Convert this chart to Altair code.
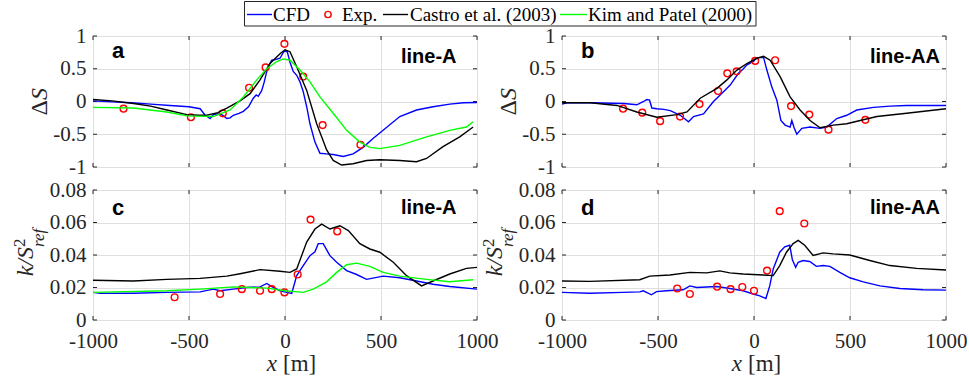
import altair as alt
import pandas as pd

# ---------------- data ----------------
X_TICKS = [-1000, -500, 0, 500, 1000]
DS_TICKS = [-1, -0.5, 0, 0.5, 1]
K_TICKS = [0, 0.02, 0.04, 0.06, 0.08]

# panel a : Delta S, line-A
A_CFD_X = [-1000, -900, -800, -700, -600, -500, -442, -416, -400, -390, -373, -355, -338, -320, -303, -286,
           -269, -240, -217, -190, -165, -150, -139, -121, -108, -95, -82, -69, -50, -26, -9, 0, 12, 26, 43,
           61, 78, 95, 113, 130, 156, 182, 215, 251, 303, 355, 407, 460, 511, 598, 685, 771, 858, 930, 1000]
A_CFD_Y = [0.01, -0.005, -0.02, -0.04, -0.06, -0.08, -0.11, -0.21, -0.24, -0.26, -0.2, -0.19, -0.19, -0.22,
           -0.26, -0.25, -0.21, -0.18, -0.15, -0.08, 0.05, 0.1, 0.08, 0.17, 0.3, 0.46, 0.56, 0.63, 0.64, 0.66,
           0.75, 0.77, 0.76, 0.6, 0.46, 0.4, 0.3, 0.15, -0.08, -0.34, -0.62, -0.79, -0.8, -0.81, -0.84, -0.8,
           -0.7, -0.56, -0.44, -0.23, -0.13, -0.08, -0.04, -0.02, -0.015]
A_CAS_X = [-1000, -900, -789, -700, -615, -511, -450, -407, -350, -303, -234, -182, -130, -78, -26, 0, 26,
           61, 113, 165, 217, 251, 295, 355, 425, 494, 598, 685, 737, 823, 910, 980]
A_CAS_Y = [0.03, 0.01, -0.03, -0.07, -0.13, -0.2, -0.21, -0.21, -0.17, -0.1, 0.01, 0.12, 0.33, 0.58, 0.73,
           0.79, 0.76, 0.53, 0.17, -0.34, -0.74, -0.9, -0.97, -0.95, -0.9, -0.89, -0.9, -0.92, -0.87, -0.69,
           -0.54, -0.39]
A_KIM_X = [-1000, -789, -615, -511, -373, -286, -217, -147, -95, -43, -9, 26, 78, 130, 182, 251, 321, 390,
           442, 494, 598, 737, 858, 945, 980]
A_KIM_Y = [-0.09, -0.1, -0.16, -0.22, -0.23, -0.13, 0.07, 0.33, 0.5, 0.61, 0.65, 0.63, 0.48, 0.3, 0.07,
           -0.18, -0.44, -0.62, -0.7, -0.72, -0.67, -0.54, -0.44, -0.39, -0.31]
A_EXP_X = [-841, -490, -324, -187, -101, -3, 95, 196, 393]
A_EXP_Y = [-0.11, -0.24, -0.18, 0.21, 0.52, 0.88, 0.38, -0.36, -0.66]

# panel b : Delta S, line-AA
B_CFD_X = [-1000, -974, -852, -679, -610, -575, -558, -544, -532, -506, -470, -436, -384, -341, -315, -263,
           -211, -159, -124, -81, -55, -37, -3, 15, 50, 67, 93, 119, 140, 162, 188, 197, 209, 223, 249, 292,
           344, 379, 431, 483, 535, 622, 709, 795, 882, 1000]
B_CFD_Y = [-0.04, -0.02, -0.02, -0.03, -0.05, 0.0, 0.03, 0.02, -0.1, -0.11, -0.12, -0.14, -0.21, -0.31,
           -0.23, -0.19, 0.0, 0.15, 0.25, 0.43, 0.5, 0.56, 0.61, 0.67, 0.67, 0.48, 0.22, 0.02, -0.29, -0.36,
           -0.39, -0.29, -0.4, -0.5, -0.41, -0.39, -0.41, -0.39, -0.26, -0.21, -0.13, -0.09, -0.07, -0.06,
           -0.06, -0.06]
B_CAS_X = [-1000, -852, -714, -610, -506, -401, -349, -280, -193, -141, -89, -37, 15, 50, 84, 136, 188,
           240, 292, 344, 414, 483, 553, 640, 795, 1000]
B_CAS_Y = [-0.02, -0.02, -0.06, -0.16, -0.24, -0.2, -0.16, 0.05, 0.2, 0.33, 0.48, 0.58, 0.66, 0.69, 0.63,
           0.38, 0.07, -0.13, -0.29, -0.4, -0.36, -0.34, -0.29, -0.23, -0.18, -0.11]
B_EXP_X = [-682, -582, -489, -385, -284, -187, -139, -90, 6, 110, 193, 288, 388, 580]
B_EXP_Y = [-0.11, -0.17, -0.3, -0.23, -0.04, 0.16, 0.43, 0.46, 0.62, 0.63, -0.07, -0.2, -0.43, -0.28]

# panel c : k/S^2_ref, line-A
C_CFD_X = [-1000, -962, -789, -615, -442, -373, -338, -269, -199, -130, -95, -69, -26, 9, 35, 61, 95, 130,
           156, 173, 199, 234, 269, 321, 373, 425, 511, 598, 685, 771, 858, 1000]
C_CFD_Y = [0.017, 0.0164, 0.0165, 0.017, 0.0173, 0.019, 0.018, 0.019, 0.02, 0.0204, 0.0225, 0.0205, 0.018,
           0.017, 0.0164, 0.0273, 0.0335, 0.0396, 0.042, 0.047, 0.047, 0.0396, 0.0355, 0.0304, 0.028, 0.025,
           0.027, 0.026, 0.024, 0.022, 0.0206, 0.019]
C_CAS_X = [-1000, -789, -615, -442, -303, -234, -130, -26, 26, 61, 113, 156, 191, 234, 286, 330, 390, 442,
           494, 564, 633, 711, 771, 858, 945, 1000]
C_CAS_Y = [0.0245, 0.024, 0.025, 0.0256, 0.027, 0.0285, 0.031, 0.030, 0.0293, 0.0314, 0.048, 0.056, 0.059,
           0.056, 0.058, 0.055, 0.047, 0.0437, 0.0417, 0.0355, 0.0273, 0.021, 0.024, 0.0283, 0.0318, 0.0324]
C_KIM_X = [-1000, -615, -442, -269, -95, 0, 95, 147, 217, 269, 321, 373, 442, 511, 598, 737, 858, 980]
C_KIM_Y = [0.017, 0.018, 0.019, 0.0204, 0.0196, 0.018, 0.017, 0.019, 0.0235, 0.0293, 0.034, 0.035, 0.033,
           0.0293, 0.027, 0.025, 0.0235, 0.0248]
C_EXP_X = [-575, -338, -225, -130, -69, -3, 66, 133, 272]
C_EXP_Y = [0.014, 0.016, 0.019, 0.018, 0.019, 0.017, 0.028, 0.0618, 0.0545]

# panel d : k/S^2_ref, line-AA
D_CFD_X = [-1000, -856, -682, -595, -577, -560, -534, -508, -456, -369, -334, -299, -195, -126, -57, -4,
           30, 62, 82, 100, 134, 160, 186, 200, 217, 230, 256, 290, 325, 360, 395, 447, 499, 569, 656, 760,
           881, 1000]
D_CFD_Y = [0.017, 0.0165, 0.017, 0.0173, 0.018, 0.017, 0.0155, 0.0175, 0.018, 0.0186, 0.021, 0.02, 0.0206,
           0.0194, 0.018, 0.016, 0.0149, 0.0132, 0.021, 0.0314, 0.0417, 0.045, 0.046, 0.037, 0.0324, 0.0355,
           0.0366, 0.036, 0.033, 0.0335, 0.033, 0.0293, 0.026, 0.0235, 0.021, 0.0194, 0.0186, 0.0184]
D_CAS_X = [-1000, -856, -595, -543, -438, -334, -247, -178, -126, -57, 48, 100, 134, 169, 204, 230, 264,
           308, 360, 412, 499, 603, 708, 847, 1000]
D_CAS_Y = [0.024, 0.0238, 0.0248, 0.027, 0.0277, 0.0293, 0.029, 0.0302, 0.029, 0.0283, 0.0277, 0.0273,
           0.0335, 0.0417, 0.047, 0.049, 0.046, 0.0397, 0.0413, 0.0407, 0.040, 0.0366, 0.0335, 0.0318, 0.0308]
D_EXP_X = [-400, -334, -192, -122, -61, 0, 68, 134, 262]
D_EXP_Y = [0.0194, 0.016, 0.0205, 0.019, 0.0203, 0.018, 0.0304, 0.067, 0.0594]

SERIES_NAMES = ["CFD", "Exp.", "Castro et al. (2003)", "Kim and Patel (2000)"]

# ---------------- styling ----------------
W = 384
H_TOP = 131
H_BOT = 130
SERIF = "Liberation Serif"
SANS = "Liberation Sans"
INK = "#262626"
GRID = "#dfdfdf"
BLUE, RED, BLACK, GREEN = "#0000ff", "#ff0000", "#000000", "#00ff00"
LW = 1.4


def df_xy(xs, ys):
    return pd.DataFrame({"x": xs, "y": ys})


def txt(text, x, y, size, font=SERIF, style="normal", weight="normal", align="left",
        baseline="alphabetic", angle=0, color=INK):
    return alt.Chart(alt.Data(values=[{"k": 0}])).mark_text(
        font=font, fontSize=size, fontStyle=style, fontWeight=weight, align=align,
        baseline=baseline, angle=angle, color=color
    ).encode(x=alt.value(x), y=alt.value(y), text=alt.value(text))


def panel(lines, exp, yticks, ydomain, h, bottom, letter, line_label, lab_base, line_base,
          kind, xjunction, legend=False):
    xs = alt.Scale(domain=[-1000, 1000], nice=False, zero=False)
    ys = alt.Scale(domain=ydomain, nice=False, zero=False)
    xenc = alt.X("x:Q", scale=xs, axis=alt.Axis(
        values=X_TICKS, labels=bottom, title=None, grid=True, gridColor=GRID, gridWidth=1,
        ticks=False, domain=False, labelFlush=False, labelOverlap=False, labelBound=False,
        labelPadding=10, labelFont=SERIF, labelFontSize=21, labelColor=INK,
        labelExpr="toString(datum.value)"))
    yenc = alt.Y("y:Q", scale=ys, axis=alt.Axis(
        values=yticks, title=None, grid=True, gridColor=GRID, gridWidth=1,
        ticks=False, domain=False, labelFlush=False, labelOverlap=False, labelBound=False,
        labelPadding=7, labelFont=SERIF, labelFontSize=21, labelColor=INK,
        labelExpr="toString(datum.value)"))

    layers = []
    # inward tick marks (MATLAB style), on all four sides
    xt = alt.Chart(pd.DataFrame({"x": X_TICKS})).mark_rule(color=INK, strokeWidth=1)
    layers.append(xt.encode(x=xenc, y=alt.value(h), y2=alt.value(h - 4)))
    layers.append(xt.encode(x=xenc, y=alt.value(0), y2=alt.value(4)))
    yt = alt.Chart(pd.DataFrame({"y": yticks})).mark_rule(color=INK, strokeWidth=1)
    layers.append(yt.encode(y=yenc, x=alt.value(0), x2=alt.value(4)))
    layers.append(yt.encode(y=yenc, x=alt.value(W - 4), x2=alt.value(W)))

    # data series in plotting order: CFD, Exp., Castro, Kim
    cfd, cas, kim = lines
    layers.append(alt.Chart(cfd).mark_line(color=BLUE, strokeWidth=LW, clip=True).encode(x=xenc, y=yenc))
    layers.append(alt.Chart(exp).mark_point(shape="circle", filled=False, color=RED, size=46,
                                            strokeWidth=1.4, opacity=1).encode(x=xenc, y=yenc))
    layers.append(alt.Chart(cas).mark_line(color=BLACK, strokeWidth=LW, clip=True).encode(x=xenc, y=yenc))
    if kim is not None:
        layers.append(alt.Chart(kim).mark_line(color=GREEN, strokeWidth=LW, clip=True).encode(x=xenc, y=yenc))

    # panel annotations
    layers.append(txt(letter, 19, lab_base, 22, font=SANS, weight="bold", color="black"))
    layers.append(txt(line_label, 308, line_base, 20, font=SANS, weight="bold", color="black"))

    # y-axis titles
    if kind == "ds":
        yc = 64
        layers.append(txt("\u0394", -46, yc, 24, align="right", angle=270))
        layers.append(txt("S", -46, yc, 24, style="italic", align="left", angle=270))
    else:
        yc = 57
        layers.append(txt("k/S", -60, yc, 24, style="italic", align="right", angle=270))
        layers.append(txt("2", -68, yc, 17, align="left", angle=270))
        layers.append(txt("ref", -49, yc, 17, style="italic", align="left", angle=270))

    # x-axis title
    if bottom:
        layers.append(txt("x", xjunction, 181, 23, style="italic", align="right"))
        layers.append(txt("[m]", xjunction + 6, 181, 23, align="left"))

    if legend:
        # legend box, drawn relative to panel a
        layers.append(alt.Chart(alt.Data(values=[{"k": 0}])).mark_rect(
            fill="white", stroke=INK, strokeWidth=1).encode(
            x=alt.value(151.5), x2=alt.value(663), y=alt.value(-34.5), y2=alt.value(-10)))
        ly = -21.5
        lb = -15.5
        entries = [
            ("line", BLUE, 154, 179, SERIES_NAMES[0], 180),
            ("point", RED, 235, None, SERIES_NAMES[1], 249),
            ("line", BLACK, 290, 315, SERIES_NAMES[2], 317),
            ("line", GREEN, 467, 494, SERIES_NAMES[3], 495),
        ]
        for kind_, col, x1, x2, label, tx in entries:
            one = alt.Chart(alt.Data(values=[{"k": 0}]))
            if kind_ == "line":
                layers.append(one.mark_rule(color=col, strokeWidth=LW).encode(
                    x=alt.value(x1), x2=alt.value(x2), y=alt.value(ly)))
            else:
                layers.append(one.mark_point(shape="circle", filled=False, color=col, size=40,
                                             strokeWidth=1.4, opacity=1).encode(
                    x=alt.value(x1), y=alt.value(ly)))
            layers.append(txt(label, tx, lb, 19, color="black"))
        # invisible anchor that pins the left/top edge of the page
        layers.append(alt.Chart(alt.Data(values=[{"k": 0}])).mark_rule(
            strokeOpacity=0, strokeWidth=1, color="white").encode(
            x=alt.value(-92.5), x2=alt.value(-92.5), y=alt.value(-34.5), y2=alt.value(-30)))

    return alt.layer(*layers).properties(width=W, height=h)


pa = panel((df_xy(A_CFD_X, A_CFD_Y), df_xy(A_CAS_X, A_CAS_Y), df_xy(A_KIM_X, A_KIM_Y)),
           df_xy(A_EXP_X, A_EXP_Y), DS_TICKS, [-1, 1], H_TOP, False, "a", "line-A", 22, 27, "ds", 0,
           legend=True)
pb = panel((df_xy(B_CFD_X, B_CFD_Y), df_xy(B_CAS_X, B_CAS_Y), None),
           df_xy(B_EXP_X, B_EXP_Y), DS_TICKS, [-1, 1], H_TOP, False, "b", "line-AA", 22, 27, "ds", 0)
pc = panel((df_xy(C_CFD_X, C_CFD_Y), df_xy(C_CAS_X, C_CAS_Y), df_xy(C_KIM_X, C_KIM_Y)),
           df_xy(C_EXP_X, C_EXP_Y), K_TICKS, [0, 0.08], H_BOT, True, "c", "line-A", 25, 24, "k", 184)
pd_ = panel((df_xy(D_CFD_X, D_CFD_Y), df_xy(D_CAS_X, D_CAS_Y), None),
            df_xy(D_EXP_X, D_EXP_Y), K_TICKS, [0, 0.08], H_BOT, True, "d", "line-AA", 25, 24, "k", 180)

chart = alt.concat(pa, pb, pc, pd_, columns=2, spacing={"row": 23, "column": 85}, bounds="flush").properties(
    padding={"left": 0, "top": 0, "right": 0, "bottom": 0}
).configure_view(stroke=INK, strokeWidth=1).configure(background="white")

chart.save("out.html", embed_options={"renderer": "svg", "actions": False})
